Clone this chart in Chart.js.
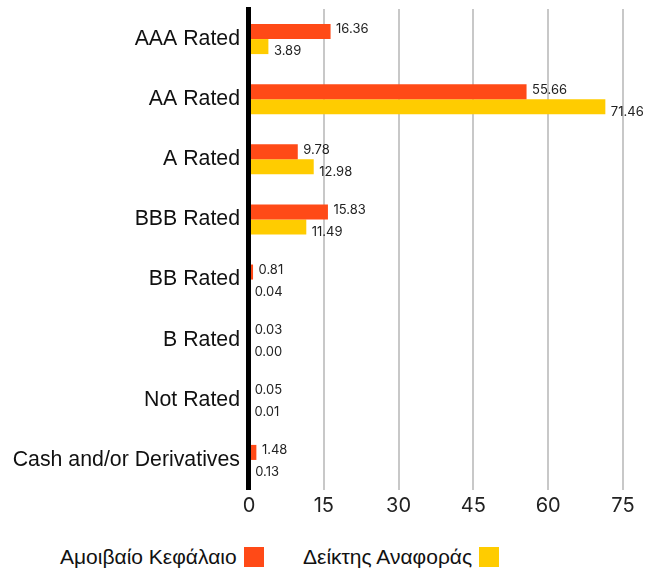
<!DOCTYPE html>
<html>
<head>
<meta charset="utf-8">
<script src="https://cdn.jsdelivr.net/npm/chart.js@4"></script>
<style>
  body { margin: 0; background: #fff; }
  #wrap { position: relative; width: 662px; height: 530px; }
  #legend { position: absolute; top: 544px; left: 0; width: 662px; height: 26px;
            font-family: "Liberation Sans", Arial, sans-serif; font-size: 21px; color: #111; }
  .item { position: absolute; top: 0; display: flex; align-items: center; height: 26px; }
  .box { width: 20px; height: 20px; margin-left: 7px; }
</style>
</head>
<body>
<div id="wrap"><canvas id="chart"></canvas></div>
<div id="legend"></div>
<script>
const categories = ['AAA Rated', 'AA Rated', 'A Rated', 'BBB Rated', 'BB Rated', 'B Rated', 'Not Rated', 'Cash and/or Derivatives'];
const fundValues = [16.36, 55.66, 9.78, 15.83, 0.81, 0.03, 0.05, 1.48];
const benchValues = [3.89, 71.46, 12.98, 11.49, 0.04, 0.00, 0.01, 0.13];
const seriesNames = ['Αμοιβαίο Κεφάλαιο', 'Δείκτης Αναφοράς'];
const seriesColors = ['#ff4a17', '#ffcc00'];
const xTicks = [0, 15, 30, 45, 60, 75];

// values next to the bars + black axis line drawn over the bar bases
const valueLabels = {
  id: 'valueLabels',
  afterDatasetsDraw(chart) {
    const ctx = chart.ctx;
    const area = chart.chartArea;
    ctx.save();
    ctx.fillStyle = '#000';
    ctx.fillRect(area.left - 3, area.top - 2, 5, area.bottom - area.top + 2);
    ctx.font = '13px Inter, sans-serif';
    ctx.fillStyle = '#222';
    ctx.textAlign = 'left';
    ctx.textBaseline = 'middle';
    chart.data.datasets.forEach((ds, i) => {
      const meta = chart.getDatasetMeta(i);
      meta.data.forEach((bar, j) => {
        const x = Math.max(bar.x, area.left) + 5.5;
        const y = bar.y + (i === 0 ? -2 : 5);
        ctx.fillText(ds.data[j].toFixed(2), x, y);
      });
    });
    ctx.restore();
  }
};

new Chart(document.getElementById('chart'), {
  type: 'bar',
  data: {
    labels: categories,
    datasets: [
      { label: seriesNames[0], data: fundValues, backgroundColor: seriesColors[0] },
      { label: seriesNames[1], data: benchValues, backgroundColor: seriesColors[1] }
    ]
  },
  options: {
    indexAxis: 'y',
    responsive: true,
    maintainAspectRatio: false,
    animation: false,
    layout: { padding: { top: 9, right: 39, left: 0, bottom: 0 } },
    datasets: { bar: { categoryPercentage: 0.5, barPercentage: 1 } },
    plugins: { legend: { display: false }, tooltip: { enabled: false } },
    scales: {
      x: {
        min: 0, max: 75,
        afterBuildTicks: s => { s.ticks = xTicks.map(v => ({ value: v })); },
        afterFit: s => { s.height = 40; },
        grid: { color: '#c8c8c8', lineWidth: 2, drawTicks: false },
        border: { display: false },
        ticks: { padding: 4, color: '#222', font: { family: 'Inter', size: 20 } }
      },
      y: {
        afterFit: s => { s.width = 249; s.paddingTop = 0; s.paddingBottom = 0; },
        grid: { display: false, drawTicks: false },
        border: { display: false },
        ticks: { padding: 9, color: '#111', font: { family: 'Liberation Sans', size: 21.3 } }
      }
    }
  },
  plugins: [valueLabels]
});

const legend = document.getElementById('legend');
const legendLeft = [60, 303];
seriesNames.forEach((name, i) => {
  const item = document.createElement('div');
  item.className = 'item';
  item.style.left = legendLeft[i] + 'px';
  item.innerHTML = '<span>' + name + '</span><span class="box" style="background:' + seriesColors[i] + '"></span>';
  legend.appendChild(item);
});
</script>
</body>
</html>
